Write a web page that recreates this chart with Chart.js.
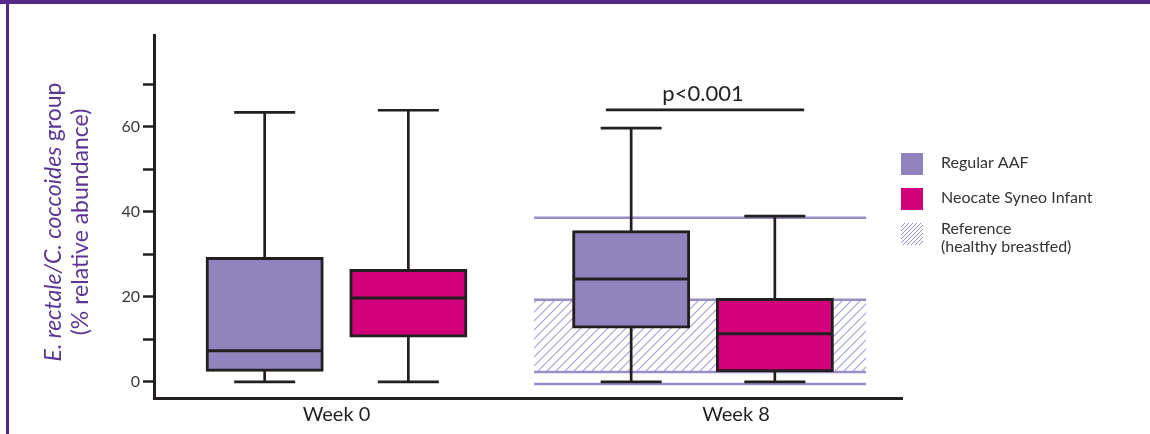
<!DOCTYPE html>
<html>
<head>
<meta charset="utf-8">
<script src="https://cdn.jsdelivr.net/npm/chart.js@4.4.0/dist/chart.umd.min.js"></script>
<style>
  html, body { margin: 0; padding: 0; background: #fff; }
  canvas { display: block; }
</style>
</head>
<body>
<canvas id="chart" width="1150" height="434"></canvas>
<script>
const CATEGORIES = ['Week 0', 'Week 8']
const SERIES = ['Regular AAF', 'Neocate Syneo Infant']

// box plot stats (% relative abundance), one entry per category
const AAF_MIN = [0, 0]
const AAF_Q1 = [2.7, 12.9]
const AAF_MEDIAN = [7.3, 24.2]
const AAF_Q3 = [29.0, 35.3]
const AAF_MAX = [63.4, 59.7]

const SYNEO_MIN = [0, 0]
const SYNEO_Q1 = [10.8, 2.6]
const SYNEO_MEDIAN = [19.7, 11.3]
const SYNEO_Q3 = [26.2, 19.4]
const SYNEO_MAX = [63.9, 39.0]

// healthy breastfed reference, shown at week 8
const REF_IQR = [2.3, 19.3]
const REF_RANGE = [-0.5, 38.6]

const Y_TICKS = [0, 10, 20, 30, 40, 50, 60, 70]
const P_LABEL = 'p<0.001'
const P_LEVEL = 64

// layout bits (in x-axis units, one unit per category)
const SERIES_OFFSET = [-0.196, 0.196]
const LABEL_SHIFT = [0, 0.09]
const REF_SPAN = [-0.461, 0.445]
const BRACKET_SPAN = [-0.265, 0.276]

const INK = '#231f20'
const PURPLE = '#9184be'
const MAGENTA = '#d2007a'
const REF_LINE = '#9a8cc6'
const FRAME = '#55288a'
const TITLE = '#5a3794'

const STATS = [
  { min: AAF_MIN, q1: AAF_Q1, median: AAF_MEDIAN, q3: AAF_Q3, max: AAF_MAX, color: PURPLE },
  { min: SYNEO_MIN, q1: SYNEO_Q1, median: SYNEO_MEDIAN, q3: SYNEO_Q3, max: SYNEO_MAX, color: MAGENTA },
]

function makeHatch(step, color, width) {
  const c = document.createElement('canvas')
  c.width = step
  c.height = step
  const g = c.getContext('2d')
  g.strokeStyle = color
  g.lineWidth = width
  g.beginPath()
  g.moveTo(-1, step + 1); g.lineTo(step + 1, -1)
  g.moveTo(-1, 1); g.lineTo(1, -1)
  g.moveTo(step - 1, step + 1); g.lineTo(step + 1, step - 1)
  g.stroke()
  return g.createPattern(c, 'repeat')
}

function hline(ctx, x1, x2, y, color, width) {
  ctx.strokeStyle = color
  ctx.lineWidth = width
  ctx.beginPath()
  ctx.moveTo(x1, y)
  ctx.lineTo(x2, y)
  ctx.stroke()
}

const boxPlugin = {
  id: 'boxExtras',
  beforeDraw(chart) {
    const { ctx } = chart
    ctx.save()
    ctx.fillStyle = FRAME
    ctx.fillRect(0, 0, chart.width, 4)
    ctx.fillRect(6, 0, 3, chart.height)
    ctx.restore()
  },
  beforeDatasetsDraw(chart) {
    const { ctx, scales: { x, y } } = chart
    const x1 = x.getPixelForValue(1 + REF_SPAN[0])
    const x2 = x.getPixelForValue(1 + REF_SPAN[1])
    const top = y.getPixelForValue(REF_IQR[1])
    const bot = y.getPixelForValue(REF_IQR[0])
    ctx.save()
    ctx.fillStyle = makeHatch(9, '#a89cd0', 1.1)
    ctx.fillRect(x1, top, x2 - x1, bot - top)
    ;[...REF_RANGE, ...REF_IQR].forEach((v) => hline(ctx, x1, x2, y.getPixelForValue(v), REF_LINE, 2.5))
    ctx.restore()
  },
  afterDatasetsDraw(chart) {
    const { ctx, scales: { x, y } } = chart
    const py = (v) => y.getPixelForValue(v)
    ctx.save()
    ctx.lineCap = 'butt'
    STATS.forEach((s, i) => {
      CATEGORIES.forEach((c, j) => {
        const cx = x.getPixelForValue(j + SERIES_OFFSET[i])
        ctx.strokeStyle = INK
        ctx.lineWidth = 2.7
        ctx.beginPath()
        ctx.moveTo(cx, py(s.q3[j])); ctx.lineTo(cx, py(s.max[j]))
        ctx.moveTo(cx, py(s.q1[j])); ctx.lineTo(cx, py(s.min[j]))
        ctx.stroke()
        hline(ctx, cx - 30.5, cx + 30.5, py(s.max[j]), INK, 2.7)
        hline(ctx, cx - 30.5, cx + 30.5, py(s.min[j]), INK, 2.7)
        hline(ctx, cx - 58, cx + 58, py(s.median[j]), INK, 3)
      })
    })

    // significance bracket over week 8
    const by = py(P_LEVEL)
    hline(ctx, x.getPixelForValue(1 + BRACKET_SPAN[0]), x.getPixelForValue(1 + BRACKET_SPAN[1]), by, INK, 2.7)
    ctx.fillStyle = INK
    ctx.font = '22px Lato'
    ctx.textAlign = 'center'
    ctx.textBaseline = 'alphabetic'
    ctx.fillText(P_LABEL, x.getPixelForValue(1), by - 9)
    ctx.restore()
  },
  afterDraw(chart) {
    const { ctx } = chart
    ctx.save()

    // y axis title, italic species name
    ctx.fillStyle = TITLE
    ctx.textBaseline = 'middle'
    ctx.translate(54, 222)
    ctx.rotate(-Math.PI / 2)
    const head = 'E. rectale/C. coccoides '
    ctx.font = 'italic 23px Lato'
    const w1 = ctx.measureText(head).width
    ctx.font = '23px Lato'
    const w2 = ctx.measureText('group').width
    ctx.textAlign = 'left'
    ctx.font = 'italic 23px Lato'
    ctx.fillText(head, -(w1 + w2) / 2, 0)
    ctx.font = '23px Lato'
    ctx.fillText('group', -(w1 + w2) / 2 + w1, 0)
    ctx.textAlign = 'center'
    ctx.fillText('(% relative abundance)', 0, 27)
    ctx.setTransform(1, 0, 0, 1, 0, 0)

    // legend
    const items = [
      { fill: PURPLE, lines: [SERIES[0]] },
      { fill: MAGENTA, lines: [SERIES[1]] },
      { fill: makeHatch(4, '#9d8fca', 1), lines: ['Reference', '(healthy breastfed)'] },
    ]
    ctx.font = '16px Lato'
    ctx.textAlign = 'left'
    ctx.textBaseline = 'middle'
    items.forEach((it, k) => {
      const top = 153 + k * 35
      ctx.fillStyle = it.fill
      ctx.fillRect(901, top, 22, 22)
      ctx.fillStyle = '#333'
      const ty = it.lines.length > 1 ? top + 6 : top + 10
      it.lines.forEach((t, n) => ctx.fillText(t, 941, ty + n * 18))
    })
    ctx.restore()
  },
}

new Chart(document.getElementById('chart'), {
  type: 'bar',
  data: {
    datasets: STATS.map((s, i) => ({
      label: SERIES[i],
      data: CATEGORIES.map((c, j) => ({ x: j + SERIES_OFFSET[i], y: [s.q1[j], s.q3[j]] })),
      backgroundColor: s.color,
      borderColor: INK,
      borderWidth: 3,
      borderSkipped: false,
      inflateAmount: 1.5,
      barThickness: 115,
      grouped: false,
    })),
  },
  options: {
    responsive: false,
    animation: false,
    devicePixelRatio: 1,
    layout: { padding: { top: 35, right: 248, bottom: 0, left: 0 } },
    plugins: { legend: { display: false }, tooltip: { enabled: false } },
    scales: {
      x: {
        type: 'linear',
        offset: false,
        min: -0.498,
        max: 1.543,
        grid: { display: false, drawTicks: false, offset: false },
        border: { display: true, color: INK, width: 3 },
        afterBuildTicks: (scale) => { scale.ticks = CATEGORIES.map((c, i) => ({ value: i + LABEL_SHIFT[i] })) },
        afterFit: (scale) => { scale.height = 36 },
        ticks: {
          padding: 5,
          color: INK,
          font: { family: 'Lato', size: 20 },
          callback: (v, i) => CATEGORIES[i],
        },
      },
      y: {
        min: -3.8,
        max: 81.6,
        grid: { drawOnChartArea: false, drawTicks: true, tickLength: 11, tickColor: INK, tickWidth: 2.5 },
        border: { display: true, color: INK, width: 3 },
        afterBuildTicks: (scale) => { scale.ticks = Y_TICKS.map((v) => ({ value: v })) },
        afterFit: (scale) => { scale.width = 154 },
        ticks: {
          padding: 3,
          color: '#3a3a3a',
          font: { family: 'Lato', size: 16 },
          callback: (v) => (v % 20 === 0 ? v : ''),
        },
      },
    },
  },
  plugins: [boxPlugin],
})
</script>
</body>
</html>
